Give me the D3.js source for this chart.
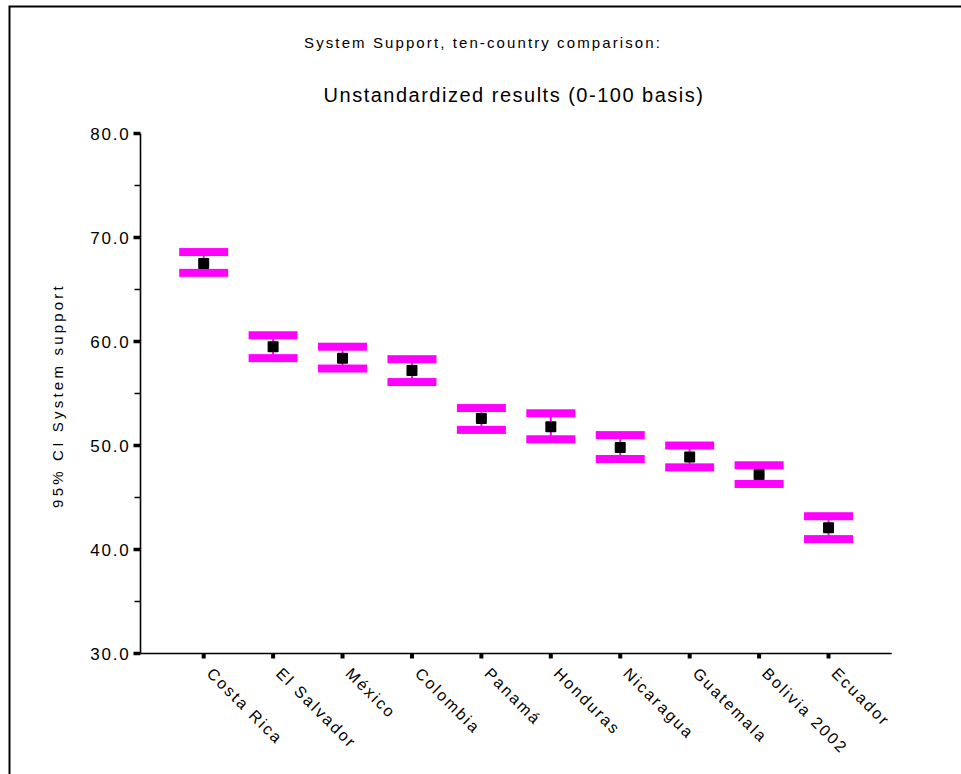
<!DOCTYPE html>
<html><head><meta charset="utf-8">
<script src="https://cdn.jsdelivr.net/npm/d3@7"></script>
<style>body{margin:0;background:#fff}svg{display:block}text{font-family:"Liberation Sans",Arial,sans-serif;fill:#000}</style>
</head><body>
<script>
const countries = ["Costa Rica","El Salvador","México","Colombia","Panamá","Honduras","Nicaragua","Guatemala","Bolivia 2002","Ecuador"];
const means = [67.5,59.5,58.4,57.2,52.6,51.8,49.8,48.9,47.2,42.1];
const lower = [66.6,58.4,57.4,56.1,51.5,50.6,48.7,47.9,46.3,41.0];
const upper = [68.6,60.6,59.5,58.3,53.6,53.1,51.0,50.0,48.1,43.2];
const yTicks = [30,40,50,60,70,80];
const yMinor = [35,45,55,65,75];
const title1 = "System Support, ten-country comparison:";
const title2 = "Unstandardized results (0-100 basis)";
const yLabel = "95% CI System support";

const W=961,H=774;
const svg=d3.select("body").append("svg").attr("width",W).attr("height",H);
svg.append("rect").attr("x",0).attr("y",0).attr("width",W).attr("height",H).attr("fill","#fff");
svg.append("path").attr("d","M9.5,"+H+"V6.5H"+W).attr("fill","none").attr("stroke","#000").attr("stroke-width",2);

const pL=140.5,pR=891.7,pT=133.5,pB=653.5;
const y=d3.scaleLinear().domain([30,80]).range([pB,pT]);
const x=d3.scalePoint().domain(countries).range([pL,pR]).padding(0.91);

svg.append("text").attr("x",483).attr("y",48).attr("text-anchor","middle").style("font-size","15px").style("letter-spacing","2.1px").text(title1);
svg.append("text").attr("x",514).attr("y",102).attr("text-anchor","middle").style("font-size","20px").style("letter-spacing","1.5px").text(title2);

const ya=svg.append("g").attr("transform",`translate(${pL},0)`);
ya.append("line").attr("y1",pT).attr("y2",pB).attr("stroke","#000").attr("stroke-width",1.6);
ya.selectAll("line.maj").data(yTicks).join("line").attr("class","maj")
  .attr("x1",-7).attr("x2",0).attr("y1",d=>y(d)).attr("y2",d=>y(d)).attr("stroke","#000").attr("stroke-width",3.5);
ya.selectAll("line.min").data(yMinor).join("line").attr("class","min")
  .attr("x1",-6).attr("x2",0).attr("y1",d=>y(d)).attr("y2",d=>y(d)).attr("stroke","#000").attr("stroke-width",1.5);
ya.selectAll("text").data(yTicks).join("text").attr("x",-10).attr("y",d=>y(d)+6)
  .attr("text-anchor","end").style("font-size","17px").style("letter-spacing","1.8px").text(d=>d3.format(".1f")(d));
svg.append("text").attr("transform",`translate(63,${(pT+pB)/2+2}) rotate(-90)`).attr("text-anchor","middle")
  .style("font-size","15px").style("letter-spacing","3.2px").text(yLabel);

const xa=svg.append("g").attr("transform",`translate(0,${pB})`);
xa.append("line").attr("x1",pL).attr("x2",pR).attr("stroke","#000").attr("stroke-width",1.6);
xa.selectAll("line.t").data(countries).join("line").attr("class","t")
  .attr("x1",d=>x(d)).attr("x2",d=>x(d)).attr("y1",0).attr("y2",5).attr("stroke","#000").attr("stroke-width",4);
xa.selectAll("text").data(countries).join("text")
  .attr("transform",d=>`translate(${x(d)+2},${21}) rotate(45)`)
  .style("font-size","16px").style("letter-spacing","2.2px").text(d=>d);

const g=svg.append("g");
const bw=49, bh=8, ms=11;
countries.forEach((c,i)=>{
  const cx=x(c);
  g.append("line").attr("x1",cx).attr("x2",cx).attr("y1",y(upper[i])).attr("y2",y(lower[i])).attr("stroke","#ff00ff").attr("stroke-width",2);
  g.append("rect").attr("x",cx-bw/2).attr("y",y(upper[i])-bh/2).attr("width",bw).attr("height",bh).attr("fill","#ff00ff");
  g.append("rect").attr("x",cx-bw/2).attr("y",y(lower[i])-bh/2).attr("width",bw).attr("height",bh).attr("fill","#ff00ff");
  g.append("rect").attr("x",cx-ms/2).attr("y",y(means[i])-ms/2).attr("width",ms).attr("height",ms).attr("rx",1).attr("fill","#000");
});
</script>
</body></html>
